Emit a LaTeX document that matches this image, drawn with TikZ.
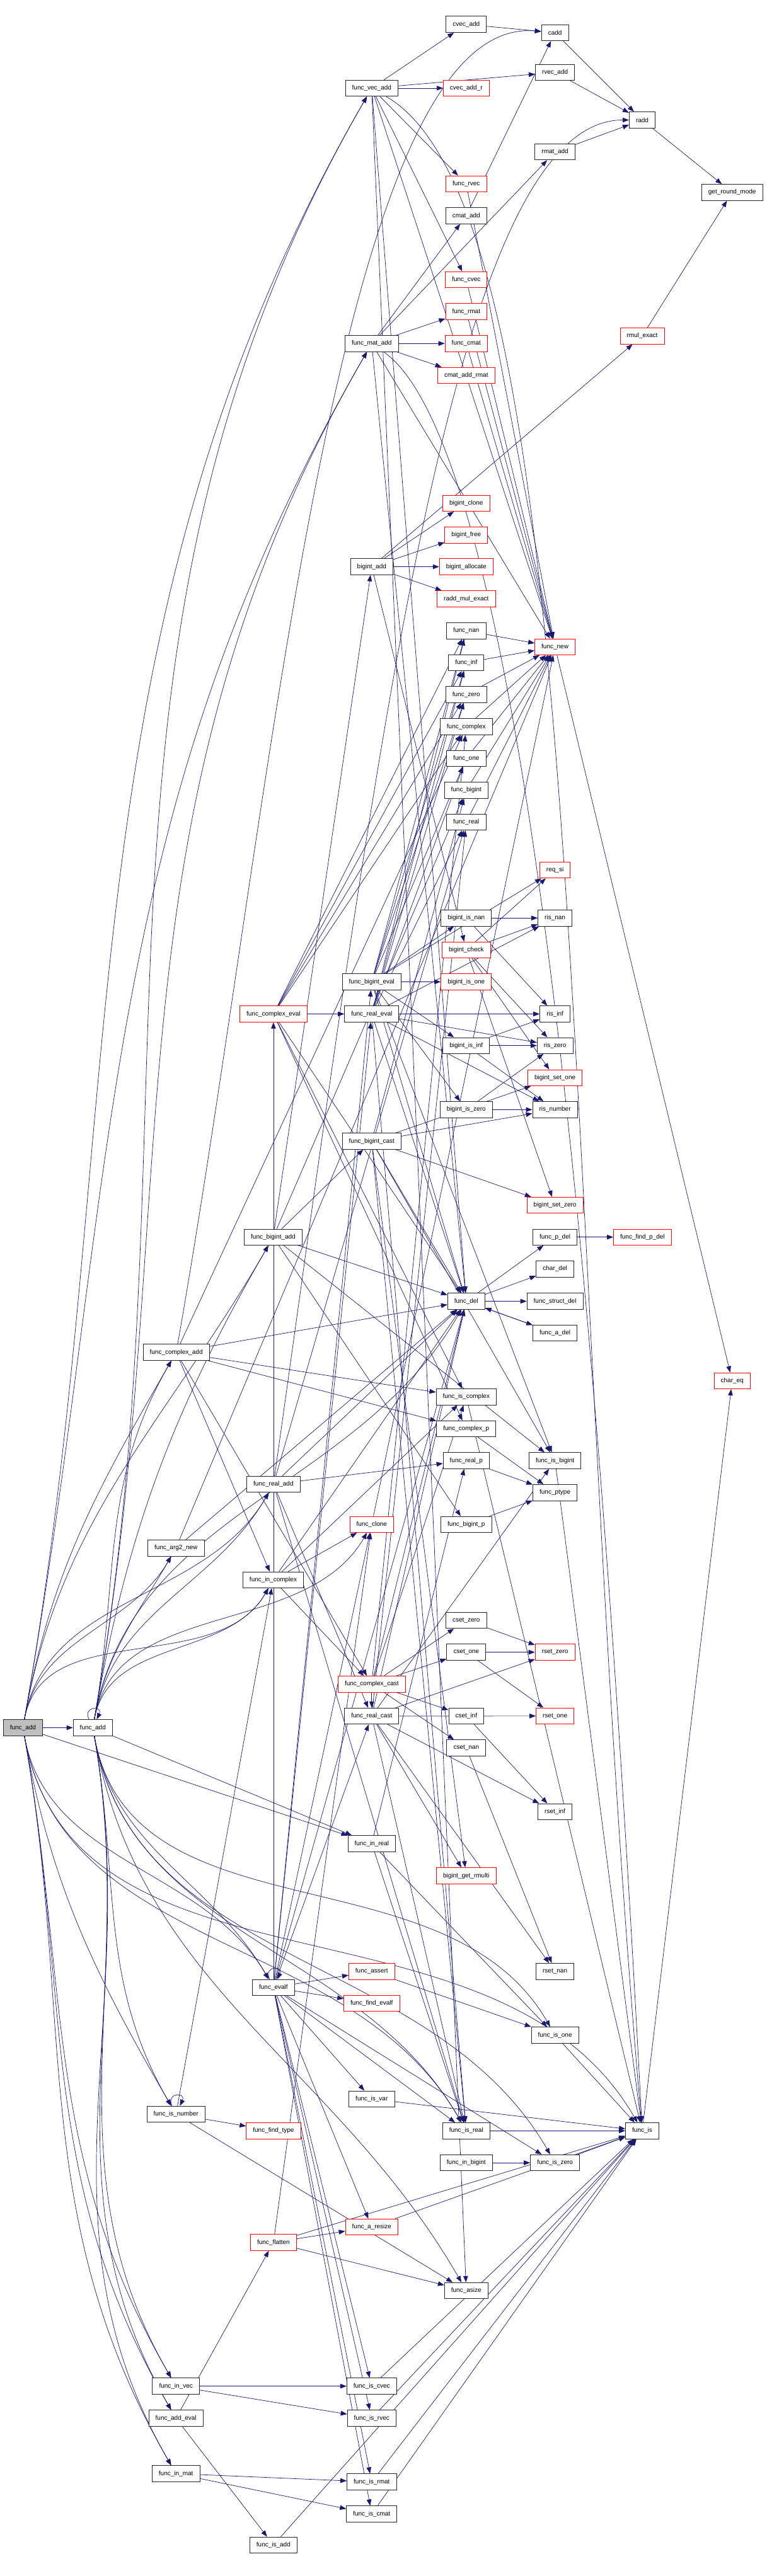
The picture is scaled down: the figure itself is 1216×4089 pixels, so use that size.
\documentclass[tikz,border=0pt]{standalone}
\usepackage{fontspec}
\setmainfont{Liberation Sans}
\usetikzlibrary{arrows.meta,backgrounds}
\definecolor{edgeblue}{RGB}{25,25,112}
\definecolor{rootgray}{RGB}{191,191,191}
\tikzset{
  box/.style={draw=black!85, line width=0.9pt, fill=white, font=\fontsize{10}{12}\selectfont,
    inner xsep=10.6pt, inner ysep=0pt, minimum height=25.5pt, anchor=center},
  rbox/.style={box, draw=red},
  gbox/.style={box, fill=rootgray},
  E/.style={draw=edgeblue, line width=0.7pt, -{Triangle[length=10pt,width=7.5pt]}}
}
\begin{document}
\begin{tikzpicture}[x=1pt,y=-1pt]
\useasboundingbox (0,0) rectangle (1216,4089);
% column 0/1
\node[gbox] (R) at (36.4,2742.4) {func\_add};
\node[box] (fadd) at (147.3,2742.4) {func\_add};
% column 2
\node[box] (cxadd) at (279.6,2146.5) {func\_complex\_add};
\node[box] (arg2) at (279.2,2457.2) {func\_arg2\_new};
\node[box] (isnum) at (279.2,3355.9) {func\_is\_number};
\node[box] (invec) at (279.2,3787.6) {func\_in\_vec};
\node[box] (addev) at (279.2,3838.5) {func\_add\_eval};
\node[box] (inmat) at (279.2,3926.4) {func\_in\_mat};
% column 3
\node[rbox] (cxev) at (433.9,1609.5) {func\_complex\_eval};
\node[box] (biadd) at (433.5,1963.7) {func\_bigint\_add};
\node[box] (readd) at (433.9,2356) {func\_real\_add};
\node[box] (incx) at (433.5,2507.8) {func\_in\_complex};
\node[box] (evalf) at (433.9,3154.8) {func\_evalf};
\node[rbox] (ftype) at (433.9,3382.3) {func\_find\_type};
\node[rbox] (flat) at (433.9,3559.5) {func\_flatten};
\node[box] (isadd) at (433.9,4039.8) {func\_is\_add};
% column 4
\node[box] (vecadd) at (589.8,139.9) {func\_vec\_add};
\node[box] (matadd) at (589.8,545.2) {func\_mat\_add};
\node[box] (bigadd) at (589.8,899.6) {bigint\_add};
\node[box] (biev) at (589.8,1558.5) {func\_bigint\_eval};
\node[box] (reev) at (589.8,1609.5) {func\_real\_eval};
\node[box] (bicast) at (589.8,1811.5) {func\_bigint\_cast};
\node[rbox] (clone) at (589.8,2419.8) {func\_clone};
\node[rbox] (cxcast) at (589.8,2673.2) {func\_complex\_cast};
\node[box] (recast) at (589.8,2724) {func\_real\_cast};
\node[box] (inreal) at (589.8,2926.4) {func\_in\_real};
\node[rbox] (assert) at (589.8,3129.2) {func\_assert};
\node[rbox] (fevalf) at (589.8,3179.8) {func\_find\_evalf};
\node[box] (isvar) at (589.8,3331.7) {func\_is\_var};
\node[rbox] (aresize) at (589.8,3534.9) {func\_a\_resize};
\node[box] (iscvec) at (589.8,3787.6) {func\_is\_cvec};
\node[box] (isrvec) at (589.8,3838.5) {func\_is\_rvec};
\node[box] (isrmat) at (589.8,3939.6) {func\_is\_rmat};
\node[box] (iscmat) at (589.8,3990.6) {func\_is\_cmat};
% column 5
\node[box] (cvecadd) at (739.8,38.7) {cvec\_add};
\node[rbox] (cvecaddr) at (739.8,139.9) {cvec\_add\_r};
\node[rbox] (frvec) at (739.8,291.8) {func\_rvec};
\node[box] (cmatadd) at (739.8,342.4) {cmat\_add};
\node[rbox] (fcvec) at (739.8,444) {func\_cvec};
\node[rbox] (frmat) at (739.8,494.6) {func\_rmat};
\node[rbox] (fcmat) at (739.8,545.2) {func\_cmat};
\node[rbox] (cmataddr) at (739.8,595.8) {cmat\_add\_rmat};
\node[rbox] (bclone) at (739.8,798.8) {bigint\_clone};
\node[rbox] (bfree) at (739.8,849.4) {bigint\_free};
\node[rbox] (balloc) at (739.8,899.6) {bigint\_allocate};
\node[rbox] (raddme) at (739.8,950.6) {radd\_mul\_exact};
\node[box] (fnan) at (739.8,1001.2) {func\_nan};
\node[box] (finf) at (739.8,1051.8) {func\_inf};
\node[box] (fzero) at (739.8,1102.4) {func\_zero};
\node[box] (fcomplex) at (739.8,1153.5) {func\_complex};
\node[box] (fone) at (739.8,1203.7) {func\_one};
\node[box] (fbigint) at (739.8,1254.3) {func\_bigint};
\node[box] (freal) at (739.8,1304.9) {func\_real};
\node[box] (bisnan) at (739.8,1457.2) {bigint\_is\_nan};
\node[rbox] (bcheck) at (739.8,1507.9) {bigint\_check};
\node[rbox] (bisone) at (739.8,1558.5) {bigint\_is\_one};
\node[box] (bisinf) at (739.8,1659.7) {bigint\_is\_inf};
\node[box] (biszero) at (739.8,1761.3) {bigint\_is\_zero};
\node[box] (fdel) at (739.8,2065.5) {func\_del};
\node[box] (iscx) at (739.8,2217.3) {func\_is\_complex};
\node[box] (cxp) at (739.8,2267.9) {func\_complex\_p};
\node[box] (rep) at (739.8,2318.5) {func\_real\_p};
\node[box] (bip) at (739.8,2419.8) {func\_bigint\_p};
\node[box] (cszero) at (739.8,2572) {cset\_zero};
\node[box] (csone) at (739.8,2622.6) {cset\_one};
\node[box] (csinf) at (739.8,2723.8) {cset\_inf};
\node[box] (csnan) at (739.8,2774.6) {cset\_nan};
\node[rbox] (bgr) at (739.8,2977.4) {bigint\_get\_rmulti};
\node[box] (isreal) at (739.8,3382.3) {func\_is\_real};
\node[box] (inbig) at (739.8,3433) {func\_in\_bigint};
\node[box] (asize) at (739.8,3636) {func\_asize};
% column 6
\node[box] (cadd) at (880.6,51.9) {cadd};
\node[box] (rvecadd) at (880.6,114.9) {rvec\_add};
\node[box] (rmatadd) at (880.6,241.2) {rmat\_add};
\node[rbox] (fnew) at (880.6,1026.8) {func\_new};
\node[rbox] (reqsi) at (880.6,1381.1) {req\_si};
\node[box] (risnan) at (880.6,1457.2) {ris\_nan};
\node[box] (risinf) at (880.6,1609.5) {ris\_inf};
\node[box] (riszero) at (880.6,1659.7) {ris\_zero};
\node[rbox] (bsetone) at (880.6,1710.7) {bigint\_set\_one};
\node[box] (risnum) at (880.6,1761.3) {ris\_number};
\node[rbox] (bsetzero) at (880.6,1913.1) {bigint\_set\_zero};
\node[box] (pdel) at (880.6,1963.7) {func\_p\_del};
\node[box] (chardel) at (880.6,2014.3) {char\_del};
\node[box] (sdel) at (880.6,2065.5) {func\_struct\_del};
\node[box] (adel) at (880.6,2116.1) {func\_a\_del};
\node[box] (isbig) at (880.6,2318.5) {func\_is\_bigint};
\node[box] (ptype) at (880.6,2369.2) {func\_ptype};
\node[rbox] (rszero) at (880.6,2622.6) {rset\_zero};
\node[rbox] (rsone) at (880.6,2723.8) {rset\_one};
\node[box] (rsinf) at (880.6,2875.8) {rset\_inf};
\node[box] (rsnan) at (880.6,3129.2) {rset\_nan};
\node[box] (isone) at (880.6,3230.4) {func\_is\_one};
\node[box] (iszero) at (880.6,3433) {func\_is\_zero};
% column 7/8
\node[box] (radd) at (1019,190.5) {radd};
\node[rbox] (rmulex) at (1019,533.3) {rmul\_exact};
\node[rbox] (fpdel) at (1019.4,1963.7) {func\_find\_p\_del};
\node[box] (fis) at (1019,3382.3) {func\_is};
\node[box] (grm) at (1161.7,305.4) {get\_round\_mode};
\node[rbox] (chareq) at (1161.7,2191.8) {char\_eq};

\begin{pgfonlayer}{background}
\fill[white] (0,0) rectangle (1216,4089);
% self loops
\draw[E] (fadd) to[out=115,in=65,min distance=24pt] (fadd);
\draw[E] (evalf) to[out=115,in=65,min distance=24pt] (evalf);
\draw[E] (isnum) to[out=115,in=65,min distance=24pt] (isnum);
% curved edges from the two func_add nodes (upwards)
\foreach \a/\b/\l in {R/vecadd/1000,R/matadd/880,R/cxadd/250,R/readd/215,R/biadd/340,R/arg2/145,R/incx/180,
  fadd/vecadd/1000,fadd/matadd/870,fadd/cxadd/240,fadd/biadd/320,fadd/readd/190,fadd/arg2/120,
  fadd/incx/145,fadd/fdel/350,fadd/clone/210}
  \draw[E] (\a) .. controls +(-80:\l) and +(120:\l) .. (\b);
% curved edges from the two func_add nodes (downwards)
\foreach \a/\b/\l in {R/evalf/220,R/isnum/255,R/invec/420,R/addev/440,R/inmat/470,R/isreal/370,R/fis/460,
  fadd/evalf/195,fadd/isnum/245,fadd/invec/410,fadd/addev/430,fadd/inmat/465,fadd/isreal/340,
  fadd/isone/345,fadd/iszero/390,fadd/asize/420}
  \draw[E] (\a) .. controls +(80:\l) and +(240:\l) .. (\b);
% long curved edges
\draw[E] (cxadd) .. controls +(-80:900) and +(-175:350) .. (cadd);
\draw[E] (readd) .. controls +(-82:1200) and +(180:300) .. (radd);
\draw[E] (vecadd) .. controls +(30:400) and +(-95:1500) .. (fis);
\draw[E] (matadd) .. controls +(35:300) and +(-93:1300) .. (fis);
% straight edges
\foreach \a/\b in {R/fadd,R/inreal,fadd/inreal,
  cxadd/fcomplex,cxadd/incx,cxadd/cxcast,cxadd/iscx,cxadd/cxp,cxadd/fdel,
  arg2/fnew,arg2/fdel,
  biadd/bigadd,biadd/bicast,biadd/fbigint,biadd/fdel,biadd/isbig,biadd/bip,
  readd/recast,readd/freal,readd/fdel,readd/rep,readd/isreal,
  incx/cxcast,incx/iscx,incx/fdel,incx/clone,
  evalf/assert,evalf/fevalf,evalf/isvar,evalf/recast,evalf/cxev,evalf/reev,evalf/biev,
  evalf/isreal,evalf/iszero,evalf/aresize,evalf/iscvec,evalf/isrvec,evalf/isrmat,evalf/iscmat,
  evalf/clone,evalf/fdel,
  isnum/ftype,isnum/incx,isnum/asize,
  invec/iscvec,invec/isrvec,inmat/isrmat,inmat/iscmat,
  addev/flat,addev/isadd,isadd/fis,
  flat/aresize,flat/asize,flat/fis,flat/clone}
  \draw[E] (\a) -- (\b);
\foreach \a/\b in {vecadd/cvecadd,vecadd/cvecaddr,vecadd/rvecadd,vecadd/frvec,vecadd/fcvec,
  vecadd/fnew,vecadd/fdel,vecadd/asize,
  matadd/cmatadd,matadd/rmatadd,matadd/frmat,matadd/fcmat,matadd/cmataddr,matadd/fnew,
  matadd/fdel,
  bigadd/rmulex,bigadd/bclone,bigadd/bfree,bigadd/balloc,bigadd/raddme,bigadd/bcheck,
  cvecadd/cadd,cmatadd/cadd,cadd/radd,rvecadd/radd,rmatadd/radd,radd/grm,rmulex/grm,
  fnan/fnew,finf/fnew,fzero/fnew,fcomplex/fnew,fone/fnew,fbigint/fnew,freal/fnew,
  frvec/fnew,fcvec/fnew,frmat/fnew,fcmat/fnew,clone/fnew,
  fnew/chareq,fis/chareq}
  \draw[E] (\a) -- (\b);
\foreach \a/\b in {cxev/reev,cxev/fnan,cxev/finf,cxev/fcomplex,cxev/fzero,cxev/fdel,cxev/iscx,cxev/cxp,
  biev/bisone,biev/bisnan,biev/bisinf,biev/biszero,biev/fnan,biev/finf,biev/fzero,biev/fone,
  biev/fdel,biev/reqsi,biev/isbig,
  reev/risinf,reev/risnan,reev/riszero,reev/risnum,reev/fnan,reev/finf,reev/fzero,reev/fone,
  reev/freal,reev/fdel,reev/isreal,
  bicast/bsetone,bicast/bsetzero,bicast/fbigint,bicast/fdel,bicast/isbig,bicast/bgr,
  bicast/isreal,bicast/risnum,
  bisnan/risnan,bisnan/risinf,bcheck/reqsi,bcheck/risnan,bcheck/riszero,bcheck/bsetone,
  bcheck/bsetzero,bisinf/risinf,bisinf/riszero,bisinf/risnum,biszero/riszero,biszero/risnum}
  \draw[E] (\a) -- (\b);
\foreach \a/\b in {fdel/sdel,fdel/adel,adel/fdel,fdel/pdel,fdel/chardel,pdel/fpdel,
  cxp/ptype,rep/ptype,bip/ptype,
  iscx/fis,isbig/fis,isreal/fis,isone/fis,iszero/fis,inbig/iszero,
  cszero/rszero,csone/rszero,csone/rsone,csinf/rsinf,csnan/rsnan,
  cxcast/cszero,cxcast/csone,cxcast/csinf,cxcast/csnan,cxcast/fcomplex,cxcast/fdel,
  cxcast/iscx,cxcast/recast,
  recast/rszero,recast/rsone,recast/rsinf,recast/rsnan,recast/freal,recast/fdel,
  recast/bgr,recast/isreal,recast/isbig,
  inreal/isreal,inreal/isone,inreal/rep,
  assert/isone,isvar/fis,aresize/fis,iscvec/fis,isrvec/fis,isrmat/fis,iscmat/fis}
  \draw[E] (\a) -- (\b);
\end{pgfonlayer}
\end{tikzpicture}
\end{document}
